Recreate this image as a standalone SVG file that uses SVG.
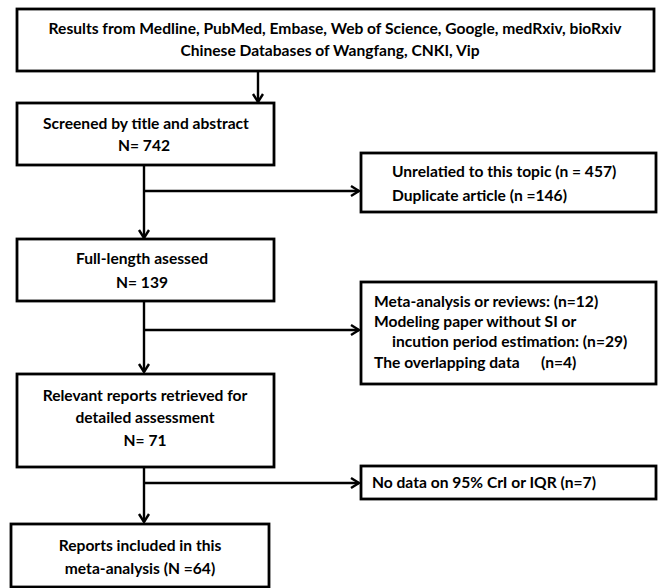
<svg xmlns="http://www.w3.org/2000/svg" width="661" height="588" viewBox="0 0 661 588">
<style>
  .box { fill: #ffffff; stroke: #000000; stroke-width: 2.8; }
  .t { font-family: Lato, "Open Sans", "Liberation Sans", sans-serif; font-weight: 700; font-size: 15.6px; fill: #000000; }
  .c { text-anchor: middle; }
  .conn { fill: none; stroke: #000000; stroke-width: 2.4; }
</style>
<defs>
  <marker id="arr" markerUnits="userSpaceOnUse" markerWidth="14" markerHeight="14" refX="9" refY="6" orient="auto">
    <path d="M1,1 L9,6 L1,11" fill="none" stroke="#000000" stroke-width="2.4"/>
  </marker>
</defs>
<rect width="661" height="588" fill="#ffffff"/>

<g id="connectors">
  <path class="conn" d="M258,71 V102" marker-end="url(#arr)"/>
  <path class="conn" d="M144,165 V238" marker-end="url(#arr)"/>
  <path class="conn" d="M144,191 H359" marker-end="url(#arr)"/>
  <path class="conn" d="M144,301 V372" stroke-width="3.2" marker-end="url(#arr)"/>
  <path class="conn" d="M144,330 H359" marker-end="url(#arr)"/>
  <path class="conn" d="M144,467 V522" marker-end="url(#arr)"/>
  <path class="conn" d="M144,483 H359" marker-end="url(#arr)"/>
</g>

<g id="n1">
  <rect class="box" x="17" y="9" width="637" height="62"/>
  <text class="t c" x="335" y="34">Results from Medline, PubMed, Embase, Web of Science, Google, medRxiv, bioRxiv</text>
  <text class="t c" x="330" y="56">Chinese Databases of Wangfang, CNKI, Vip</text>
</g>

<g id="n2">
  <rect class="box" x="17" y="103" width="257" height="62"/>
  <text class="t c" x="146" y="129">Screened by title and abstract</text>
  <text class="t c" x="144" y="151">N= 742</text>
</g>

<g id="n3">
  <rect class="box" x="361" y="153" width="295" height="59"/>
  <text class="t" x="392" y="177">Unrelatied to this topic (n = 457)</text>
  <text class="t" x="392" y="201">Duplicate article (n =146)</text>
</g>

<g id="n4">
  <rect class="box" x="17" y="239" width="257" height="62"/>
  <text class="t c" x="142" y="264">Full-length asessed</text>
  <text class="t c" x="142" y="288">N= 139</text>
</g>

<g id="n5">
  <rect class="box" x="361" y="282" width="295" height="102"/>
  <text class="t" x="374" y="307">Meta-analysis or reviews: (n=12)</text>
  <text class="t" x="374" y="327">Modeling paper without SI or</text>
  <text class="t" x="392" y="347">incution period estimation: (n=29)</text>
  <text class="t" x="374" y="368">The overlapping data</text>
  <text class="t" x="541" y="368">(n=4)</text>
</g>

<g id="n6">
  <rect class="box" x="17" y="374" width="257" height="93"/>
  <text class="t c" x="145" y="401">Relevant reports retrieved for</text>
  <text class="t c" x="145" y="423">detailed assessment</text>
  <text class="t c" x="145" y="446">N= 71</text>
</g>

<g id="n7">
  <rect class="box" x="361" y="466" width="295" height="33"/>
  <text class="t" x="372" y="488">No data on 95% CrI or IQR (n=7)</text>
</g>

<g id="n8">
  <rect class="box" x="11" y="524" width="258" height="63"/>
  <text class="t c" x="140" y="551">Reports included in this</text>
  <text class="t c" x="140" y="574">meta-analysis (N =64)</text>
</g>
</svg>
